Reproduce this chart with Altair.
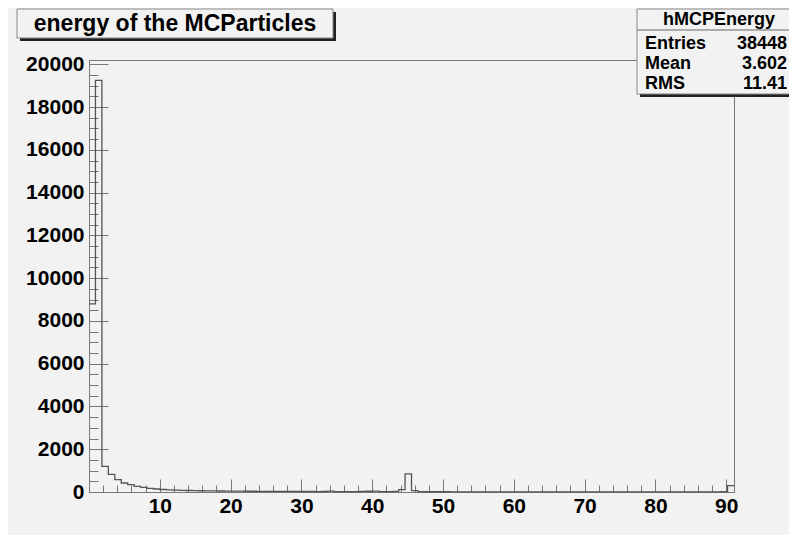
import altair as alt
import pandas as pd

# ---- data ----
XMAX = 91.1
NBINS = 100
counts = [
    8800, 19250, 1200, 825, 580, 420, 345, 265, 220, 170,
    140, 118, 100, 88, 78, 70, 64, 58, 54, 50,
    46, 43, 40, 38, 36, 34, 32, 31, 30, 28,
    27, 26, 25, 24, 23, 22, 24, 40, 20, 20,
    19, 18, 30, 35, 42, 22, 20, 25, 110, 850,
    60, 14, 12, 12, 11, 11, 10, 10, 10, 10,
    9, 9, 9, 9, 8, 8, 8, 8, 8, 8,
    7, 7, 7, 7, 7, 7, 7, 7, 6, 6,
    6, 6, 6, 6, 6, 6, 6, 6, 6, 6,
    6, 6, 6, 6, 6, 6, 6, 8, 20, 300,
]
x_label_values = [10, 20, 30, 40, 50, 60, 70, 80, 90]
x_major_ticks = [0, 10, 20, 30, 40, 50, 60, 70, 80, 90]
x_minor_ticks = list(range(0, 92, 2))
y_label_values = [0, 2000, 4000, 6000, 8000, 10000, 12000, 14000, 16000, 18000, 20000]
y_minor_ticks = list(range(0, 20001, 500))
YMAX = 20200

title_text = "energy of the MCParticles"
stats_title = "hMCPEnergy"
stats_names = ["Entries", "Mean", "RMS"]
stats_values = ["38448", "3.602", "11.41"]

# ---- table for the step outline ----
bw = XMAX / NBINS
edges = [i * bw for i in range(NBINS)] + [XMAX]
vals = counts + [counts[-1]]
df = pd.DataFrame({"x": edges, "y": vals})

W, H = 645, 432
FONT = "Liberation Sans"
BG = "#f2f2f2"
LINE = "#777777"

xscale = alt.Scale(domain=[0, XMAX], nice=False, zero=False)
yscale = alt.Scale(domain=[0, YMAX], nice=False)

base = alt.Chart(df)

x_main = alt.Axis(orient="bottom", values=x_label_values, tickSize=0, labelFont=FONT,
                  labelFontSize=21, labelFontWeight="bold", labelColor="black",
                  labelPadding=3, domainColor=LINE, grid=False, title=None, format="d")
y_main = alt.Axis(orient="left", values=y_label_values, tickSize=0, labelFont=FONT,
                  labelFontSize=21, labelFontWeight="bold", labelColor="black",
                  labelPadding=5, domainColor=LINE, grid=False, title=None, format="d")

hist = base.mark_line(interpolate="step-after", color="#555555", strokeWidth=1.3).encode(
    x=alt.X("x:Q", scale=xscale, axis=x_main),
    y=alt.Y("y:Q", scale=yscale, axis=y_main),
)

major = base.mark_point(opacity=0).encode(
    x=alt.X("x:Q", scale=xscale,
            axis=alt.Axis(orient="top", offset=-H, values=x_major_ticks, tickSize=13,
                          labels=False, domain=False, grid=False, title=None,
                          tickColor=LINE)),
    y=alt.Y("y:Q", scale=yscale,
            axis=alt.Axis(orient="right", offset=-W, values=y_label_values, tickSize=19,
                          labels=False, domain=False, grid=False, title=None,
                          tickColor=LINE)),
)

minor = base.mark_point(opacity=0).encode(
    x=alt.X("x:Q", scale=xscale,
            axis=alt.Axis(orient="top", offset=-H, values=x_minor_ticks, tickSize=7,
                          labels=False, domain=False, grid=False, title=None,
                          tickColor=LINE)),
    y=alt.Y("y:Q", scale=yscale,
            axis=alt.Axis(orient="right", offset=-W, values=y_minor_ticks, tickSize=9,
                          labels=False, domain=False, grid=False, title=None,
                          tickColor=LINE)),
)

one = alt.Chart(pd.DataFrame({"t": [title_text]}))

title_shadow = one.mark_rect(fill="#222222").encode(
    x=alt.value(-69), x2=alt.value(247), y=alt.value(-48), y2=alt.value(-19))
title_box = one.mark_rect(fill=BG, stroke="#888888", strokeWidth=1).encode(
    x=alt.value(-72), x2=alt.value(244), y=alt.value(-51), y2=alt.value(-22))
title_lbl = one.mark_text(font=FONT, fontSize=23, fontWeight="bold", color="black",
                          align="center", baseline="middle").encode(
    x=alt.value(86), y=alt.value(-36), text="t:N")

stats_shadow = one.mark_rect(fill="#222222").encode(
    x=alt.value(551), x2=alt.value(730), y=alt.value(-48), y2=alt.value(37))
stats_box = one.mark_rect(fill=BG, stroke="#888888", strokeWidth=1).encode(
    x=alt.value(548), x2=alt.value(727), y=alt.value(-51), y2=alt.value(34))
stats_sep = one.mark_rule(color="#666666", strokeWidth=1).encode(
    x=alt.value(548), x2=alt.value(727), y=alt.value(-30))
stats_head = one.mark_text(font=FONT, fontSize=18, fontWeight="bold", color="black",
                           align="center", baseline="middle").encode(
    x=alt.value(630), y=alt.value(-40), text=alt.value(stats_title))

row_y = [-16, 4, 24]
stat_layers = []
for name, val, yy in zip(stats_names, stats_values, row_y):
    stat_layers.append(one.mark_text(font=FONT, fontSize=18, fontWeight="bold", color="black",
                                     align="left", baseline="middle").encode(
        x=alt.value(556), y=alt.value(yy), text=alt.value(name)))
    stat_layers.append(one.mark_text(font=FONT, fontSize=18, fontWeight="bold", color="black",
                                     align="right", baseline="middle").encode(
        x=alt.value(698), y=alt.value(yy), text=alt.value(val)))

chart = alt.layer(
    hist, major, minor,
    title_shadow, title_box, title_lbl,
    stats_shadow, stats_box, stats_sep, stats_head, *stat_layers,
).resolve_scale(x="shared", y="shared").resolve_axis(
    x="independent", y="independent"
).properties(
    width=W, height=H,
    autosize=alt.AutoSizeParams(type="none"),
    padding={"left": 81, "top": 52, "right": 55, "bottom": 43},
    background=BG,
).configure_view(stroke=LINE, strokeWidth=1, fill=BG)

chart.save("out.html", embed_options={"renderer": "svg", "actions": False})
